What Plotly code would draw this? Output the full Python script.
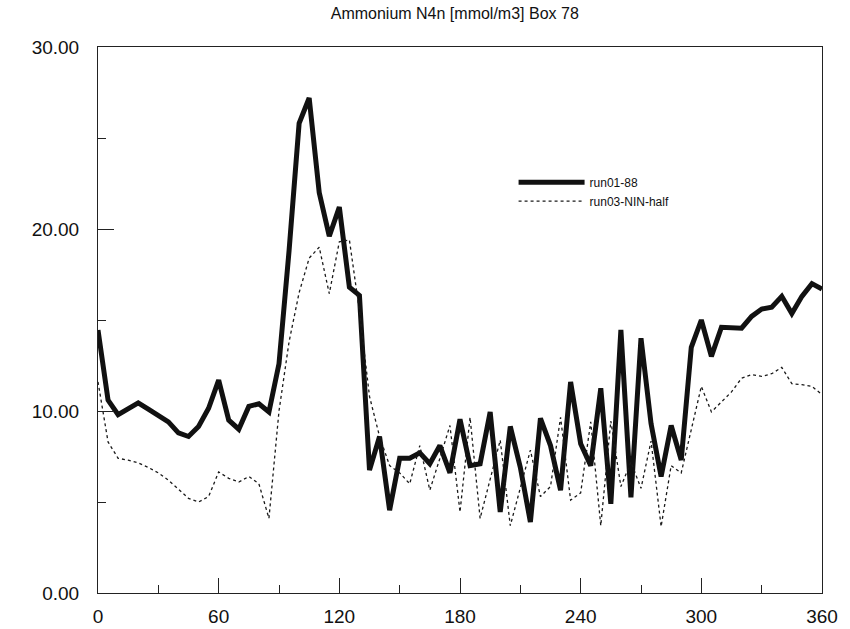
import plotly.graph_objects as go

days = list(range(0, 361, 5))

run01_88 = [
    14.45, 10.6, 9.8, 10.1, 10.45, 10.1, 9.75, 9.4, 8.8, 8.6,
    9.15, 10.15, 11.7, 9.5, 9.0, 10.25, 10.4, 9.95, 12.6, 18.8,
    25.8, 27.2, 22.0, 19.6, 21.2, 16.8, 16.35, 6.75, 8.6, 4.55,
    7.4, 7.4, 7.7, 7.1, 8.1, 6.6, 9.55, 7.0, 7.1, 9.95,
    4.45, 9.15, 6.9, 3.9, 9.6, 8.1, 5.65, 11.6, 8.2, 7.0,
    11.25, 4.9, 14.45, 5.25, 14.0, 9.3, 6.4, 9.2, 7.3, 13.5,
    15.0, 13.0, 14.6, 14.55, 14.55, 15.2, 15.6, 15.7, 16.3, 15.35,
    16.3, 17.0, 16.7,
]

run03_nin_half = [
    11.6, 8.3, 7.4, 7.3, 7.15, 6.9, 6.6, 6.2, 5.7, 5.2,
    5.0, 5.3, 6.65, 6.3, 6.1, 6.4, 6.0, 4.1, 10.0, 13.8,
    16.5, 18.4, 19.0, 16.45, 19.3, 19.4, 15.5, 10.8, 8.6, 7.0,
    6.6, 6.0, 8.1, 5.65, 7.4, 9.2, 4.45, 9.65, 4.1, 6.3,
    8.4, 3.7, 5.8, 7.85, 5.3, 5.85, 9.65, 5.1, 5.5, 9.4,
    3.7, 9.45, 5.85, 7.2, 5.75, 8.35, 3.65, 7.0, 6.6, 9.0,
    11.35, 9.95, 10.5, 11.05, 11.8, 12.0, 11.9, 12.05, 12.4, 11.5,
    11.45, 11.35, 10.9,
]

x_ticks = [0, 60, 120, 180, 240, 300, 360]
y_ticks = [0, 10, 20, 30]
y_labels = ["0.00", "10.00", "20.00", "30.00"]

title_text = "Ammonium N4n [mmol/m3] Box 78"

fig = go.Figure()
fig.add_trace(go.Scatter(
    x=days, y=run01_88, mode="lines", name="run01-88",
    line=dict(color="#111111", width=5),
))
fig.add_trace(go.Scatter(
    x=days, y=run03_nin_half, mode="lines", name="run03-NIN-half",
    line=dict(color="#1a1a1a", width=1.3, dash="3px,3px"),
))

fig.update_layout(
    width=850, height=629,
    margin=dict(l=98, r=28, t=47, b=36),
    paper_bgcolor="white", plot_bgcolor="white",
    title=dict(text=title_text, x=0.535, xanchor="center", y=0.978, yanchor="middle",
               font=dict(family="Liberation Sans, Arial", size=16, color="#111")),
    showlegend=True,
    legend=dict(x=0.574, y=0.779, xanchor="left", yanchor="top",
                bgcolor="rgba(0,0,0,0)", itemwidth=66, tracegroupgap=0,
                font=dict(family="Liberation Sans, Arial", size=12, color="#111")),
    font=dict(family="Liberation Sans, Arial", color="#111"),
)

fig.update_xaxes(
    range=[0, 360], tickvals=x_ticks, ticktext=[str(v) for v in x_ticks],
    ticks="inside", ticklen=15, tickwidth=1, tickcolor="#222",
    minor=dict(dtick=30, tick0=0, ticks="inside", ticklen=8, tickcolor="#222", tickwidth=1),
    showline=True, linecolor="#222", linewidth=1, mirror=True,
    showgrid=False, zeroline=False, ticklabelstandoff=6, automargin=False,
    tickfont=dict(family="Liberation Sans Narrow, Liberation Sans, Arial", size=19, color="#111"),
)
fig.update_yaxes(
    range=[0, 30], tickvals=y_ticks, ticktext=y_labels,
    ticks="inside", ticklen=16, tickwidth=1, tickcolor="#222",
    minor=dict(dtick=5, tick0=0, ticks="inside", ticklen=8, tickcolor="#222", tickwidth=1),
    showline=True, linecolor="#222", linewidth=1, mirror=True,
    showgrid=False, zeroline=False, ticklabelstandoff=14, automargin=False,
    tickfont=dict(family="Liberation Sans, Arial", size=19, color="#111"),
)

fig.write_html("out.html")
